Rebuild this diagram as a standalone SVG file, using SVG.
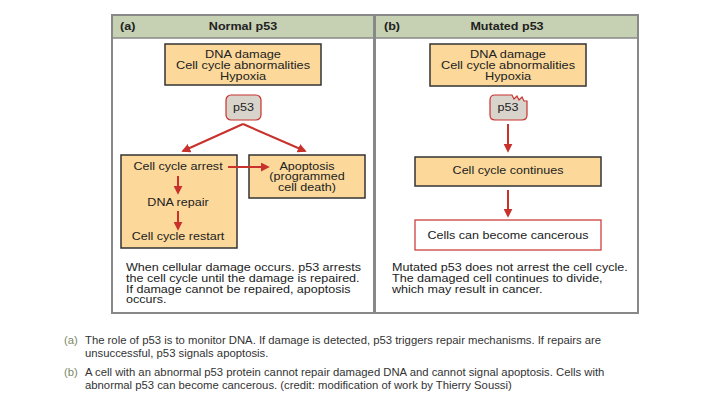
<svg xmlns="http://www.w3.org/2000/svg" width="720" height="405" viewBox="0 0 720 405">
<defs>
<style>
.t{font-family:"Liberation Sans",Arial,sans-serif;font-size:10.3px;fill:#222;text-anchor:middle}
.p{font-family:"Liberation Sans",Arial,sans-serif;font-size:10.3px;fill:#222}
.h{font-family:"Liberation Sans",Arial,sans-serif;font-size:10.3px;font-weight:bold;fill:#222}
.c{font-family:"Liberation Sans",Arial,sans-serif;font-size:11.3px;fill:#333}
.cl{font-family:"Liberation Sans",Arial,sans-serif;font-size:11.3px;fill:#7a8a6a}
.box{fill:#fcd99b;stroke:#333;stroke-width:1.5}
.arr{stroke:#c8312c;stroke-width:2;fill:none;marker-end:url(#ah)}
</style>
<marker id="ah" viewBox="0 0 10 10" refX="8" refY="5" markerWidth="4.5" markerHeight="4.5" orient="auto">
<path d="M0,0 L10,5 L0,10 z" fill="#c8312c"/>
</marker>
</defs>
<rect width="720" height="405" fill="#fff"/>
<g id="frame">
<rect x="112" y="15" width="526" height="23" fill="#c6d0b2"/>
<rect x="112" y="15" width="526" height="298" fill="none" stroke="#888" stroke-width="2"/>
<line x1="112" y1="38" x2="638" y2="38" stroke="#888" stroke-width="1.5"/>
<line x1="374.5" y1="15" x2="374.5" y2="313" stroke="#888" stroke-width="3"/>
<g transform="translate(120,0) scale(1.22,1)"><text class="h" x="0" y="30.5">(a)</text></g>
<g transform="translate(243,0) scale(1.22,1)"><text class="h" x="0" y="30.5" text-anchor="middle">Normal p53</text></g>
<g transform="translate(384,0) scale(1.22,1)"><text class="h" x="0" y="30.5">(b)</text></g>
<g transform="translate(507,0) scale(1.22,1)"><text class="h" x="0" y="30.5" text-anchor="middle">Mutated p53</text></g>
</g>
<g id="a-stress">
<rect class="box" x="165" y="44" width="156" height="41"/>
<g transform="translate(243,0) scale(1.24,1)">
<text class="t" x="0" y="58.5">DNA damage</text>
<text class="t" x="0" y="69.5">Cell cycle abnormalities</text>
<text class="t" x="0" y="80">Hypoxia</text>
</g>
</g>
<g id="a-p53">
<rect x="226" y="95" width="35" height="25" rx="5" fill="#d8d4cc" stroke="#c8312c" stroke-width="1.2"/>
<g transform="translate(243.5,0) scale(1.22,1)"><text class="t" x="0" y="111">p53</text></g>
</g>
<g id="a-arrest">
<rect class="box" x="121" y="155" width="116" height="93"/>
<g transform="translate(178,0) scale(1.22,1)">
<text class="t" x="0" y="170.5">Cell cycle arrest</text>
<text class="t" x="0" y="206.5">DNA repair</text>
<text class="t" x="0" y="240.5">Cell cycle restart</text>
</g>
</g>
<g id="a-apoptosis">
<rect class="box" x="249" y="155" width="116" height="43"/>
<g transform="translate(307,0) scale(1.22,1)">
<text class="t" x="0" y="170">Apoptosis</text>
<text class="t" x="0" y="180.5">(programmed</text>
<text class="t" x="0" y="191">cell death)</text>
</g>
</g>
<g id="a-note">
<g transform="translate(126,0) scale(1.22,1)">
<text class="p" x="0" y="271.5">When cellular damage occurs. p53 arrests</text>
<text class="p" x="0" y="282.2">the cell cycle until the damage is repaired.</text>
<text class="p" x="0" y="292.9">If damage cannot be repaired, apoptosis</text>
<text class="p" x="0" y="303.5">occurs.</text>
</g>
</g>
<g id="b-stress">
<rect class="box" x="430" y="44" width="156" height="42"/>
<g transform="translate(508,0) scale(1.24,1)">
<text class="t" x="0" y="58.5">DNA damage</text>
<text class="t" x="0" y="69.5">Cell cycle abnormalities</text>
<text class="t" x="0" y="80">Hypoxia</text>
</g>
</g>
<g id="b-p53">
<path d="M495,95 L512,95 L514,99 L517,96 L519,100 L522,97 L524,101 L527,101 L527,115 Q527,120 522,120 L495,120 Q490,120 490,115 L490,100 Q490,95 495,95 Z" fill="#d8d4cc" stroke="#c8312c" stroke-width="1.2"/>
<g transform="translate(508,0) scale(1.22,1)"><text class="t" x="0" y="111">p53</text></g>
</g>
<g id="b-continues">
<rect class="box" x="415" y="157" width="186" height="29"/>
<g transform="translate(508,0) scale(1.22,1)"><text class="t" x="0" y="174.5">Cell cycle continues</text></g>
</g>
<g id="b-cancer">
<rect x="415" y="220" width="186" height="30" fill="#fff" stroke="#c8312c" stroke-width="1.2"/>
<g transform="translate(508,0) scale(1.22,1)"><text class="t" x="0" y="239">Cells can become cancerous</text></g>
</g>
<g id="b-note">
<g transform="translate(392,0) scale(1.22,1)">
<text class="p" x="0" y="271.5">Mutated p53 does not arrest the cell cycle.</text>
<text class="p" x="0" y="282.2">The damaged cell continues to divide,</text>
<text class="p" x="0" y="292.9">which may result in cancer.</text>
</g>
</g>
<g id="connectors">
<line class="arr" x1="243" y1="124" x2="183" y2="151"/>
<line class="arr" x1="243" y1="124" x2="305" y2="151"/>
<line class="arr" x1="228" y1="167" x2="268" y2="167"/>
<line class="arr" x1="178" y1="176" x2="178" y2="193"/>
<line class="arr" x1="178" y1="211" x2="178" y2="229"/>
<line class="arr" x1="508" y1="124" x2="508" y2="151"/>
<line class="arr" x1="508" y1="190" x2="508" y2="216"/>
</g>
<g id="caption">
<text class="cl" x="64" y="344">(a)</text>
<text class="c" x="85" y="344">The role of p53 is to monitor DNA. If damage is detected, p53 triggers repair mechanisms. If repairs are</text>
<text class="c" x="85" y="357">unsuccessful, p53 signals apoptosis.</text>
<text class="cl" x="64" y="376">(b)</text>
<text class="c" x="85" y="376">A cell with an abnormal p53 protein cannot repair damaged DNA and cannot signal apoptosis. Cells with</text>
<text class="c" x="85" y="389">abnormal p53 can become cancerous. (credit: modification of work by Thierry Soussi)</text>
</g>
</svg>
